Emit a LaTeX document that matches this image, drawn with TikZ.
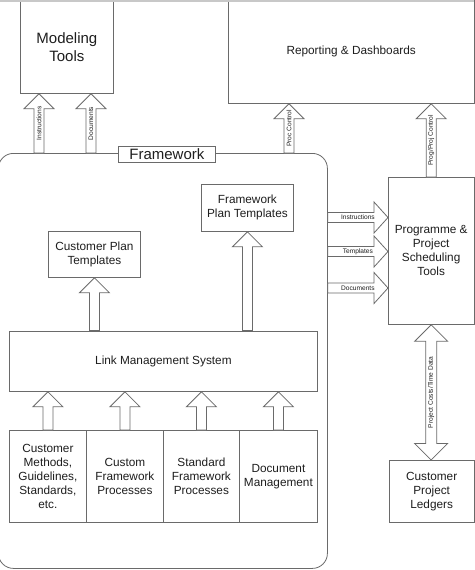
\documentclass[tikz,border=0pt]{standalone}
\usepackage{fontspec}
\setmainfont{Liberation Sans}
\usetikzlibrary{calc}
\definecolor{lc}{HTML}{6A6A6A}
\definecolor{tc}{HTML}{1E1E1E}
\definecolor{edge}{HTML}{C8C8C8}
\tikzset{
  box/.style={draw=lc, line width=0.8pt, fill=white, align=center, text=tc, inner sep=0pt, anchor=north west, font=\fontsize{11.8}{14}\selectfont},
  bigbox/.style={box, font=\fontsize{15}{18}\selectfont},
  blk/.style={draw=lc, line width=0.8pt, fill=white, line join=miter},
  lbl/.style={text=tc, inner sep=0pt, font=\fontsize{6.6}{7}\selectfont},
}
% vertical block arrow: name, tail point, tip point, label
\newcommand{\blkup}[4]{%
  \draw[blk] let \p1=(#2), \p2=(#3) in
    (\x1-5pt,\y1) -- (\x1-5pt,\y2-15pt) -- (\x1-15pt,\y2-15pt) -- (\x1,\y2)
    -- (\x1+15pt,\y2-15pt) -- (\x1+5pt,\y2-15pt) -- (\x1+5pt,\y1) -- cycle;
  \path (#2) -- node[lbl,rotate=90] (#1) {#4} (#3);
}
% horizontal block arrow pointing right
\newcommand{\blkright}[4]{%
  \draw[blk] let \p1=(#2), \p2=(#3) in
    (\x1,\y1-5pt) -- (\x2-14pt,\y1-5pt) -- (\x2-14pt,\y1-15.5pt) -- (\x2,\y1)
    -- (\x2-14pt,\y1+15.5pt) -- (\x2-14pt,\y1+5pt) -- (\x1,\y1+5pt) -- cycle;
  \path (#2) -- node[lbl] (#1) {#4} (#3);
}
% vertical double block arrow: name, lower tip, upper tip, label
\newcommand{\blkupdown}[4]{%
  \draw[blk] let \p1=(#2), \p2=(#3) in
    (\x1,\y1) -- (\x1-16.5pt,\y1+16.5pt) -- (\x1-5.5pt,\y1+16.5pt) -- (\x1-5.5pt,\y2-16.5pt)
    -- (\x1-16.5pt,\y2-16.5pt) -- (\x1,\y2) -- (\x1+16.5pt,\y2-16.5pt) -- (\x1+5.5pt,\y2-16.5pt)
    -- (\x1+5.5pt,\y1+16.5pt) -- (\x1+16.5pt,\y1+16.5pt) -- cycle;
  \path (#2) -- node[lbl,rotate=90] (#1) {#4} (#3);
}
\begin{document}
\begin{tikzpicture}[x=1pt,y=-1pt]
\useasboundingbox (0,0) rectangle (474,570);
\fill[white] (0,0) rectangle (474,570);

% framework container
\node[draw=lc, line width=0.8pt, rounded corners=15pt, minimum width=329pt, minimum height=415pt, anchor=north west, inner sep=0pt] (fw) at (-2,153) {};
\node[box, bigbox, minimum width=97pt, minimum height=16pt] (fwl) at (118,146) {Framework};

% outer boxes
\node[bigbox, minimum width=93pt, minimum height=93pt] (mt) at (20,0) {Modeling\\Tools};
\node[box, minimum width=245.5pt, minimum height=103pt] (rd) at (228,0) {Reporting \& Dashboards};
\node[box, minimum width=85.5pt, minimum height=147pt] (pp) at (388,177) {Programme \&\\Project\\Scheduling\\Tools};
\node[box, minimum width=84.5pt, minimum height=62pt] (cpl) at (389,460) {Customer\\Project\\Ledgers};

% inner boxes
\node[box, minimum width=92pt, minimum height=47pt] (fpt) at (201,184) {Framework\\Plan Templates};
\node[box, minimum width=92pt, minimum height=46pt] (cpt) at (48,231) {Customer Plan\\Templates};
\node[box, minimum width=308pt, minimum height=60.5pt] (lms) at (9,330.5) {Link Management System};
\node[box, minimum width=77pt, minimum height=92pt] (b1) at (9,430) {Customer\\Methods,\\Guidelines,\\Standards,\\etc.};
\node[box, minimum width=77pt, minimum height=92pt] (b2) at (86,430) {Custom\\Framework\\Processes};
\node[box, minimum width=76pt, minimum height=92pt] (b3) at (163,430) {Standard\\Framework\\Processes};
\node[box, minimum width=78pt, minimum height=92pt] (b4) at (239,430) {Document\\Management};

% faint top border of the scan
\fill[edge] (0,0) rectangle (474,1.5);

% connector points
\coordinate (a1t) at ($(mt.south west)+(19,0)$);
\coordinate (a1b) at (a1t |- fw.north);
\coordinate (a2t) at ($(mt.south west)+(71,0)$);
\coordinate (a2b) at (a2t |- fw.north);
\coordinate (a3t) at ($(rd.south west)+(61,0)$);
\coordinate (a3b) at (a3t |- fw.north);
\coordinate (a4t) at (pp.north |- rd.south);
\coordinate (r1t) at ($(pp.north west)+(0,40.5)$);
\coordinate (r1b) at (r1t -| fw.east);
\coordinate (r2t) at ($(pp.north west)+(0,74.5)$);
\coordinate (r2b) at (r2t -| fw.east);
\coordinate (r3t) at ($(pp.north west)+(0,111)$);
\coordinate (r3b) at (r3t -| fw.east);
\coordinate (cb) at (cpt.south |- lms.north);
\coordinate (fb) at (fpt.south |- lms.north);
\coordinate (dd) at (pp.south |- cpl.north);

% block arrows
\blkup{l1}{a1b}{a1t}{Instructions}
\blkup{l2}{a2b}{a2t}{Documents}
\blkup{l3}{a3b}{a3t}{Proc Control}
\blkup{l4}{pp.north}{a4t}{Prog/Proj Control}
\blkright{l5}{r1b}{r1t}{Instructions}
\blkright{l6}{r2b}{r2t}{Templates}
\blkright{l7}{r3b}{r3t}{Documents}
\blkup{l8}{cb}{cpt.south}{}
\blkup{l9}{fb}{fpt.south}{}
\blkup{l10}{b1.north}{b1.north |- lms.south}{}
\blkup{l11}{b2.north}{b2.north |- lms.south}{}
\blkup{l12}{b3.north}{b3.north |- lms.south}{}
\blkup{l13}{b4.north}{b4.north |- lms.south}{}
\blkupdown{l14}{dd}{pp.south}{Project Costs/Time Data}
\end{tikzpicture}
\end{document}
